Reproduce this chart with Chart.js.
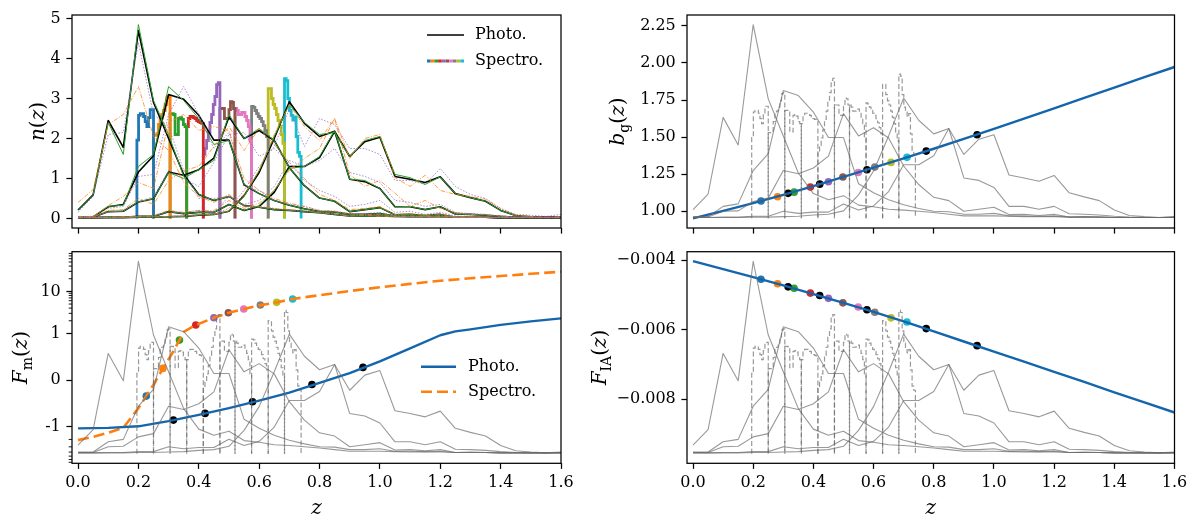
<!DOCTYPE html>
<html><head><meta charset="utf-8">
<script src="https://cdn.jsdelivr.net/npm/chart.js@4.4.1/dist/chart.umd.min.js"></script>
<style>
html,body{margin:0;padding:0;background:#fff;}
#wrap{position:relative;width:1200px;height:531px;overflow:hidden;background:#fff;}
canvas{position:absolute;display:block;}
</style></head><body>
<div id="wrap">
<canvas id="c1" width="575" height="245" style="left:0;top:0;width:575px;height:245px"></canvas>
<canvas id="c2" width="625" height="245" style="left:575px;top:0;width:625px;height:245px"></canvas>
<canvas id="c3" width="575" height="286" style="left:0;top:245px;width:575px;height:286px"></canvas>
<canvas id="c4" width="625" height="286" style="left:575px;top:245px;width:625px;height:286px"></canvas>
</div>
<script>
// ---------------- data ----------------
const zGrid = [0,0.05,0.1,0.15,0.2,0.25,0.3,0.35,0.4,0.45,0.5,0.55,0.6,0.65,0.7,0.75,0.8,0.85,0.9,0.95,1.0,1.05,1.1,1.15,1.2,1.25,1.3,1.35,1.4,1.45,1.5,1.55,1.6];
// photometric n(z), main (black)
const nPhoto1 = [0.21,0.59,2.45,1.78,4.7,2.9,2.0,1.1,0.6,0.45,0.55,0.32,0.28,0.22,0.2,0.17,0.14,0.1,0.06,0.06,0.06,0.05,0.04,0.04,0.04,0.03,0.03,0.03,0.02,0.02,0.02,0.02,0.02];
const nPhoto2 = [0.04,0.04,0.29,0.35,1.16,1.57,3.1,2.98,2.58,1.96,1.96,0.84,0.62,0.45,0.33,0.24,0.17,0.16,0.1,0.1,0.12,0.06,0.06,0.05,0.06,0.03,0.03,0.03,0.02,0.02,0.02,0.02,0.02];
const nPhoto3 = [0.03,0.03,0.17,0.18,0.41,0.49,1.16,1.08,1.22,1.51,2.54,2.0,2.2,1.95,1.27,0.82,0.51,0.43,0.17,0.22,0.27,0.09,0.1,0.07,0.1,0.03,0.04,0.03,0.02,0.02,0.02,0.02,0.02];
const nPhoto4 = [0.02,0.02,0.03,0.03,0.05,0.05,0.17,0.12,0.15,0.15,0.35,0.2,0.3,0.65,1.3,1.3,1.52,2.18,0.98,0.92,0.75,0.29,0.29,0.22,0.29,0.11,0.1,0.08,0.05,0.03,0.02,0.02,0.03];
const nPhoto5 = [0.02,0.02,0.02,0.02,0.03,0.03,0.04,0.05,0.08,0.1,0.18,0.57,1.15,2.0,2.92,2.38,2.05,2.18,1.55,1.92,2.03,1.05,0.98,0.9,1.04,0.62,0.52,0.43,0.2,0.07,0.04,0.02,0.04];
// variants (green solid)
const gPhoto1 = [0.22,0.6,2.4,1.6,4.85,2.95,2.1,1.05,0.6,0.45,0.55,0.32,0.28,0.22,0.2,0.17,0.14,0.1,0.06,0.06,0.06,0.05,0.04,0.04,0.04,0.03,0.03,0.03,0.02,0.02,0.02,0.02,0.02];
const gPhoto2 = [0.04,0.05,0.3,0.33,1.3,1.6,3.3,2.95,2.5,1.85,1.95,0.86,0.62,0.45,0.33,0.24,0.17,0.16,0.1,0.1,0.12,0.06,0.06,0.05,0.06,0.03,0.03,0.03,0.02,0.02,0.02,0.02,0.02];
const gPhoto3 = [0.03,0.03,0.17,0.18,0.42,0.49,1.15,1.0,1.22,1.45,2.6,2.0,2.25,1.95,1.27,0.82,0.51,0.43,0.17,0.22,0.27,0.09,0.1,0.07,0.1,0.03,0.04,0.03,0.02,0.02,0.02,0.02,0.02];
const gPhoto4 = [0.02,0.02,0.03,0.03,0.05,0.05,0.17,0.12,0.15,0.15,0.35,0.2,0.32,0.7,1.25,1.3,1.55,2.2,0.98,0.95,0.75,0.29,0.3,0.22,0.29,0.11,0.1,0.08,0.05,0.03,0.02,0.02,0.03];
const gPhoto5 = [0.02,0.02,0.02,0.02,0.03,0.03,0.04,0.05,0.08,0.1,0.18,0.55,1.2,2.05,2.85,2.4,2.1,2.15,1.55,1.95,2.05,1.1,1.02,0.85,1.04,0.62,0.52,0.43,0.2,0.07,0.04,0.02,0.04];
// variants (orange dash-dot)
const oPhoto1 = [0.4,0.72,2.35,2.6,3.3,2.05,1.7,0.9,0.55,0.4,0.6,0.3,0.3,0.25,0.22,0.2,0.15,0.12,0.06,0.08,0.05,0.04,0.05,0.04,0.03,0.03,0.03,0.02,0.02,0.02,0.02,0.02,0.02];
const oPhoto2 = [0.05,0.05,0.32,0.55,0.9,0.75,2.4,2.6,2.2,2.3,2.2,1.0,0.7,0.5,0.38,0.3,0.2,0.18,0.12,0.1,0.1,0.06,0.06,0.05,0.06,0.04,0.03,0.03,0.02,0.02,0.02,0.02,0.02];
const oPhoto3 = [0.03,0.04,0.2,0.22,0.5,0.35,0.95,1.2,1.3,1.8,2.3,1.7,2.25,1.85,1.4,1.0,0.6,0.45,0.22,0.25,0.3,0.1,0.12,0.08,0.12,0.04,0.04,0.03,0.02,0.02,0.02,0.02,0.02];
const oPhoto4 = [0.02,0.02,0.03,0.04,0.06,0.07,0.2,0.15,0.2,0.2,0.45,0.25,0.38,0.7,1.2,1.5,1.75,2.5,1.1,0.8,0.95,0.63,0.3,0.45,0.25,0.15,0.1,0.1,0.06,0.03,0.03,0.02,0.03];
const oPhoto5 = [0.02,0.02,0.02,0.03,0.04,0.04,0.05,0.06,0.1,0.1,0.2,0.6,1.2,2.1,2.85,2.3,1.95,2.5,1.5,2.0,2.1,1.02,0.8,1.08,0.7,0.6,0.55,0.48,0.25,0.08,0.05,0.03,0.04];
// variants (purple dotted)
const pPhoto1 = [0.15,0.55,2.1,2.15,4.4,2.6,2.3,1.2,0.5,0.5,0.55,0.3,0.28,0.25,0.2,0.18,0.15,0.1,0.07,0.07,0.07,0.05,0.04,0.04,0.04,0.03,0.03,0.03,0.02,0.02,0.02,0.02,0.03];
const pPhoto2 = [0.04,0.05,0.25,0.3,1.05,1.1,2.6,3.3,2.6,1.75,2.15,0.8,0.7,0.45,0.35,0.3,0.2,0.18,0.12,0.12,0.15,0.07,0.06,0.05,0.07,0.04,0.03,0.03,0.02,0.02,0.02,0.02,0.02];
const pPhoto3 = [0.03,0.04,0.15,0.2,0.4,0.55,1.2,1.0,0.8,1.4,2.1,2.15,1.55,1.75,1.4,0.95,0.7,0.55,0.3,0.35,0.45,0.15,0.18,0.1,0.15,0.06,0.05,0.04,0.03,0.03,0.02,0.02,0.03];
const pPhoto4 = [0.02,0.02,0.03,0.03,0.05,0.06,0.15,0.15,0.2,0.15,0.55,0.35,0.45,0.8,1.45,1.3,1.45,1.75,1.15,1.05,0.9,0.45,0.4,0.3,0.35,0.15,0.12,0.1,0.06,0.04,0.03,0.03,0.04];
const pPhoto5 = [0.02,0.02,0.02,0.02,0.04,0.04,0.05,0.06,0.1,0.12,0.25,0.7,1.3,1.8,2.75,1.8,2.5,2.35,1.75,1.75,1.6,0.95,0.95,0.85,1.25,0.8,0.6,0.5,0.25,0.1,0.08,0.05,0.1];
// spectroscopic bins: edges and step values
const specEdges = [0.195,0.25,0.305,0.36,0.415,0.47,0.52,0.575,0.63,0.684,0.739];
const nSpec1 = [1.96,2.58,2.62,2.62,2.55,2.42,2.3,2.52,2.72,2.72];
const nSpec2 = [2.08,2.08,2.12,2.35,2.55,2.6,2.7,2.85,3.02,3.05];
const nSpec3 = [2.62,2.62,2.6,2.1,2.1,2.5,2.52,2.48,2.35,2.3];
const nSpec4 = [2.3,2.5,2.55,2.55,2.52,2.5,2.45,2.42,2.4,2.38];
const nSpec5 = [1.6,1.75,1.95,2.15,2.4,2.6,2.85,3.05,3.35,3.4];
const nSpec6 = [2.75,2.75,2.75,2.5,2.5,2.5,2.72,2.92,2.9,2.75];
const nSpec7 = [2.75,2.7,2.6,2.6,2.65,2.65,2.55,2.45,2.3,1.95];
const nSpec8 = [2.8,2.78,2.7,2.62,2.55,2.5,2.42,2.32,2.2,2.05];
const nSpec9 = [3.25,3.25,3.0,2.85,2.75,2.6,2.45,2.3,2.1,1.88];
const nSpec10 = [3.5,3.45,3.0,2.7,2.58,2.46,2.54,2.05,1.65,1.55];
const specColors = ['#1f77b4','#ff7f0e','#2ca02c','#d62728','#9467bd','#8c564b','#e377c2','#7f7f7f','#bcbd22','#17becf'];
// bin mean redshifts
const zPhotoMean = [0.316,0.421,0.578,0.775,0.944];
const zSpecMean = [0.226,0.281,0.336,0.39,0.45,0.498,0.549,0.604,0.658,0.711];
// b_g(z)
const zLine = [0,0.1,0.2,0.3,0.4,0.5,0.6,0.7,0.8,0.9,1.0,1.1,1.2,1.3,1.4,1.5,1.6];
const bgLine = [0.951,1.002,1.054,1.11,1.169,1.231,1.294,1.356,1.421,1.487,1.555,1.624,1.694,1.764,1.834,1.904,1.973];
const bgPhotoDots = [1.12,1.182,1.279,1.405,1.516];
const bgSpecDots = [1.068,1.097,1.128,1.162,1.198,1.23,1.261,1.297,1.329,1.363];
// F_IA(z)
const fiaLine = [-0.00403,-0.00426,-0.00449,-0.00473,-0.00498,-0.00523,-0.00549,-0.00576,-0.00605,-0.00634,-0.00663,-0.00692,-0.00721,-0.0075,-0.0078,-0.00809,-0.00838];
const fiaPhotoDots = [-0.00477,-0.00502,-0.00543,-0.00597,-0.00646];
const fiaSpecDots = [-0.00455,-0.00468,-0.00481,-0.00495,-0.0051,-0.00523,-0.00535,-0.0055,-0.00566,-0.00578];
// F_m(z)
const zFmPhoto = [0,0.1,0.2,0.3,0.4,0.5,0.6,0.7,0.8,0.9,1.0,1.1,1.2,1.25,1.3,1.4,1.5,1.6];
const fmPhoto = [-1.09,-1.06,-0.99,-0.88,-0.745,-0.6,-0.44,-0.27,-0.06,0.15,0.4,0.68,0.96,1.12,1.25,1.6,1.93,2.28];
const zFmSpec = [0,0.05,0.1,0.15,0.2,0.226,0.25,0.281,0.31,0.336,0.35,0.39,0.45,0.5,0.55,0.6,0.66,0.71,0.8,0.9,1.0,1.1,1.2,1.3,1.4,1.5,1.6];
const fmSpec = [-2.08,-1.73,-1.39,-1.06,-0.6,-0.343,-0.1,0.25,0.55,0.857,1.09,1.58,2.36,3.1,3.8,4.65,5.5,6.6,8.1,10.2,12.5,15.1,17.9,20.5,23.2,26.2,29.4];
const fmPhotoDots = [-0.857,-0.714,-0.465,-0.093,0.272];
const fmSpecDots = [-0.343,0.25,0.857,1.58,2.36,3.1,3.8,4.73,5.48,6.6];
// ticks
const zTicks = [0,0.2,0.4,0.6,0.8,1.0,1.2,1.4,1.6];
const nTicks = [0,1,2,3,4,5];
const bgTicks = [1.0,1.25,1.5,1.75,2.0,2.25];
const fmTicks = [-1,0,1,10];
const fmMinorTicks = [-7,-6,-5,-4,-3,-2,2,3,4,5,6,7,8,9,20,30,40,50,60,70,80];
const fiaTicks = [-0.008,-0.006,-0.004];

const nPhoto = [nPhoto1,nPhoto2,nPhoto3,nPhoto4,nPhoto5];
const gPhoto = [gPhoto1,gPhoto2,gPhoto3,gPhoto4,gPhoto5];
const oPhoto = [oPhoto1,oPhoto2,oPhoto3,oPhoto4,oPhoto5];
const pPhoto = [pPhoto1,pPhoto2,pPhoto3,pPhoto4,pPhoto5];
const nSpec = [nSpec1,nSpec2,nSpec3,nSpec4,nSpec5,nSpec6,nSpec7,nSpec8,nSpec9,nSpec10];

// ---------------- symlog scale ----------------
const LSADJ = 1/(1-1/10);
function symT(v){ const a=Math.abs(v); return a<=1 ? v*LSADJ : Math.sign(v)*(LSADJ+Math.log10(a)); }
function symInv(t){ const a=Math.abs(t); return a<=LSADJ ? t/LSADJ : Math.sign(t)*Math.pow(10,a-LSADJ); }
class SymLogScale extends Chart.Scale {
  determineDataLimits(){ const b=this.getUserBounds(); this.min=b.min; this.max=b.max; }
  buildTicks(){ return []; }
  getLabelForValue(v){ return String(v); }
  configure(){ super.configure(); this._s=symT(this.min); this._r=symT(this.max)-this._s; }
  getPixelForValue(v){ if(v===null||v===undefined||isNaN(v)) return NaN; return this.getPixelForDecimal((symT(v)-this._s)/this._r); }
  getValueForPixel(p){ return symInv(this._s + this.getDecimalForPixel(p)*this._r); }
}
SymLogScale.id='symlog';
SymLogScale.defaults={};
Chart.register(SymLogScale);

// ---------------- helpers ----------------
const FONT = 'DejaVu Serif';
Chart.defaults.font.family = '"DejaVu Serif", serif';
Chart.defaults.color = '#000';
const LINEBLUE = '#1565ad';
const GREY = 'rgba(105,105,105,0.68)';

function xy(xs, ys){ return xs.map((x,i)=>({x:x, y:ys[i]})); }
function stepPts(e0, e1, vals){
  const w=(e1-e0)/vals.length; const pts=[{x:e0,y:0}];
  vals.forEach((v,k)=>pts.push({x:e0+k*w,y:v})); pts.push({x:e1,y:0}); return pts;
}
function lineDS(xs, ys, o){ return Object.assign({data:xy(xs,ys), pointRadius:0, fill:false, borderCapStyle:'butt', borderJoinStyle:'round'}, o); }
function dotDS(xs, ys, colors, axis){ return {data:xy(xs,ys), showLine:false, pointRadius:3.8, pointHoverRadius:3.8, pointBorderWidth:0, pointBackgroundColor:colors, borderColor:'rgba(0,0,0,0)', yAxisID:axis||'y'}; }
function zeroPad(s){ s.paddingTop=0; s.paddingBottom=0; s.paddingLeft=0; s.paddingRight=0; }
const gridCfg = {display:true, drawOnChartArea:false, drawTicks:true, tickLength:5.6, tickWidth:1.25, tickColor:'#000'};
function xAxis(show, H, area){
  return { type:'linear', position:'bottom', min:-0.02, max:1.6,
    afterBuildTicks: s=>{ s.ticks = zTicks.map(v=>({value:v})); },
    afterFit: s=>{ s.height = H - area.bottom; zeroPad(s); },
    grid: gridCfg, border:{display:false},
    ticks:{display:show, autoSkip:false, maxRotation:0, minRotation:0, padding:4.5, color:'#000', font:{family:FONT,size:16}, callback:v=>Number(v).toFixed(1)} };
}
function yAxis(type, min, max, vals, fmt, area){
  return { type:type, position:'left', min:min, max:max,
    afterBuildTicks: s=>{ s.ticks = vals.map(v=>({value:v})); },
    afterFit: s=>{ s.width = area.left; zeroPad(s); },
    grid: gridCfg, border:{display:false},
    ticks:{autoSkip:false, padding:5.6, color:'#000', font:{family:FONT,size:16}, callback:fmt} };
}
function nAxis(){ return { type:'linear', display:false, min:-0.235, max:4.935 }; }

function fontFor(p, size){ const s = p.sub ? Math.round(size*0.7) : size; return (p.it?'italic ':'') + s + 'px "DejaVu Serif"'; }
function drawMath(ctx, parts, cx, cy, rot, size){
  ctx.save(); ctx.translate(cx, cy); if(rot) ctx.rotate(-Math.PI/2);
  ctx.fillStyle='#000'; ctx.textBaseline='alphabetic'; ctx.textAlign='left';
  const ws = parts.map(p=>{ ctx.font=fontFor(p,size); return ctx.measureText(p.t).width; });
  let x = -ws.reduce((a,b)=>a+b,0)/2;
  parts.forEach((p,i)=>{ ctx.font=fontFor(p,size); ctx.fillText(p.t, x, size*0.32 + (p.sub? size*0.22:0)); x+=ws[i]; });
  ctx.restore();
}
function legendText(ctx, t, x, y){ ctx.save(); ctx.fillStyle='#000'; ctx.font='16px "DejaVu Serif"'; ctx.textBaseline='middle'; ctx.textAlign='left'; ctx.fillText(t,x,y); ctx.restore(); }

function deco(opts){
  return {
    id:'deco',
    afterDatasetsDraw(chart){
      const ctx=chart.ctx, a=chart.chartArea;
      ctx.save(); ctx.strokeStyle='#000'; ctx.lineWidth=1.25;
      ctx.strokeRect(a.left, a.top, a.right-a.left, a.bottom-a.top);
      if(opts.minor){
        const s=chart.scales.y; ctx.lineWidth=0.9; ctx.beginPath();
        opts.minor.forEach(v=>{ const p=s.getPixelForValue(v); if(p>=a.top-0.5 && p<=a.bottom+0.5){ ctx.moveTo(a.left-3.3,p); ctx.lineTo(a.left,p);} });
        ctx.stroke();
      }
      ctx.restore();
    },
    afterDraw(chart){
      const ctx=chart.ctx, a=chart.chartArea;
      drawMath(ctx, opts.ylabel, opts.ylabelX, (a.top+a.bottom)/2, true, 20);
      if(opts.xlabel) drawMath(ctx, [{t:'z',it:true}], (a.left+a.right)/2, opts.xlabelY, false, 20);
      if(opts.legend) opts.legend(ctx, a);
    }
  };
}

function makeChart(id, W, H, area, scales, datasets, plug){
  return new Chart(document.getElementById(id), {
    type:'line',
    data:{datasets:datasets},
    options:{
      responsive:false, animation:false, events:[],
      layout:{padding:{left:0, top:area.top, right:W-area.right, bottom:0}},
      plugins:{legend:{display:false}, tooltip:{enabled:false}},
      elements:{point:{radius:0}, line:{tension:0}},
      scales:scales
    },
    plugins:[plug]
  });
}

function greyDatasets(){
  const ds=[];
  nPhoto.forEach(arr=>ds.push(lineDS(zGrid, arr, {borderColor:GREY, borderWidth:1.1, yAxisID:'yn'})));
  nSpec.forEach((vals,i)=>ds.push({data:stepPts(specEdges[i],specEdges[i+1],vals), stepped:true, pointRadius:0, fill:false, borderColor:GREY, borderWidth:1.2, borderDash:[5,2.6], yAxisID:'yn'}));
  return ds;
}

// ---------------- panel 1: n(z) ----------------
(function(){
  const W=575,H=245, area={left:72,right:561,top:15,bottom:228};
  const ds=[];
  pPhoto.forEach(arr=>ds.push(lineDS(zGrid, arr, {borderColor:'rgba(148,103,189,0.85)', borderWidth:0.9, borderDash:[1.5,1.6]})));
  oPhoto.forEach(arr=>ds.push(lineDS(zGrid, arr, {borderColor:'rgba(255,127,14,0.85)', borderWidth:0.9, borderDash:[4.5,1.5,1,1.5]})));
  gPhoto.forEach(arr=>ds.push(lineDS(zGrid, arr, {borderColor:'#2ca02c', borderWidth:1.0})));
  nPhoto.forEach(arr=>ds.push(lineDS(zGrid, arr, {borderColor:'#000', borderWidth:1.6})));
  nSpec.forEach((vals,i)=>ds.push({data:stepPts(specEdges[i],specEdges[i+1],vals), stepped:true, pointRadius:0, fill:false, borderColor:specColors[i], borderWidth:2.8}));
  makeChart('c1', W, H, area, {
    x: xAxis(false, H, area),
    y: yAxis('linear', -0.24, 5.09, nTicks, v=>String(v), area)
  }, ds, deco({
    ylabel:[{t:'n',it:true},{t:'('},{t:'z',it:true},{t:')'}], ylabelX:38,
    legend:(ctx,a)=>{
      ctx.save(); ctx.lineCap='butt';
      ctx.strokeStyle='#000'; ctx.lineWidth=1.6; ctx.beginPath(); ctx.moveTo(427,35); ctx.lineTo(464,35); ctx.stroke();
      const w=(464-427)/specColors.length; ctx.lineWidth=3;
      specColors.forEach((c,i)=>{ ctx.strokeStyle=c; ctx.beginPath(); ctx.moveTo(427+i*w,61); ctx.lineTo(427+(i+1)*w,61); ctx.stroke(); });
      ctx.restore();
      legendText(ctx,'Photo.',475,35); legendText(ctx,'Spectro.',475,61);
    }
  }));
})();

// ---------------- panel 2: b_g(z) ----------------
(function(){
  const W=625,H=245, area={left:112,right:599.5,top:15,bottom:228};
  const ds=greyDatasets();
  ds.push(lineDS(zLine, bgLine, {borderColor:LINEBLUE, borderWidth:2.4}));
  ds.push(dotDS(zPhotoMean, bgPhotoDots, '#000'));
  ds.push(dotDS(zSpecMean, bgSpecDots, specColors));
  makeChart('c2', W, H, area, {
    x: xAxis(false, H, area),
    y: yAxis('linear', 0.886, 2.324, bgTicks, v=>Number(v).toFixed(2), area),
    yn: nAxis()
  }, ds, deco({ ylabel:[{t:'b',it:true},{t:'g',sub:true},{t:'('},{t:'z',it:true},{t:')'}], ylabelX:43 }));
})();

// ---------------- panel 3: F_m(z) ----------------
(function(){
  const W=575,H=286, area={left:72,right:561,top:6.7,bottom:218.3};
  const ds=greyDatasets();
  ds.push(lineDS(zFmPhoto, fmPhoto, {borderColor:LINEBLUE, borderWidth:2.4}));
  ds.push(lineDS(zFmSpec, fmSpec, {borderColor:'#ff7f0e', borderWidth:2.6, borderDash:[11,5]}));
  ds.push(dotDS(zPhotoMean, fmPhotoDots, '#000'));
  ds.push(dotDS(zSpecMean, fmSpecDots, specColors));
  makeChart('c3', W, H, area, {
    x: xAxis(true, H, area),
    y: yAxis('symlog', -7.4, 88, fmTicks, v=>String(v), area),
    yn: nAxis()
  }, ds, deco({
    ylabel:[{t:'F',it:true},{t:'m',sub:true},{t:'('},{t:'z',it:true},{t:')'}], ylabelX:21, xlabel:true, xlabelY:263, minor:fmMinorTicks,
    legend:(ctx,a)=>{
      ctx.save(); ctx.lineCap='butt';
      ctx.strokeStyle=LINEBLUE; ctx.lineWidth=2.4; ctx.beginPath(); ctx.moveTo(421,121.7); ctx.lineTo(456,121.7); ctx.stroke();
      ctx.strokeStyle='#ff7f0e'; ctx.lineWidth=2.6; ctx.setLineDash([11,5]); ctx.beginPath(); ctx.moveTo(421,146.7); ctx.lineTo(456,146.7); ctx.stroke();
      ctx.restore();
      legendText(ctx,'Photo.',468,121.7); legendText(ctx,'Spectro.',468,146.7);
    }
  }));
})();

// ---------------- panel 4: F_IA(z) ----------------
(function(){
  const W=625,H=286, area={left:112,right:599.5,top:6.7,bottom:218.3};
  const ds=greyDatasets();
  ds.push(lineDS(zLine, fiaLine, {borderColor:LINEBLUE, borderWidth:2.4}));
  ds.push(dotDS(zPhotoMean, fiaPhotoDots, '#000'));
  ds.push(dotDS(zSpecMean, fiaSpecDots, specColors));
  makeChart('c4', W, H, area, {
    x: xAxis(true, H, area),
    y: yAxis('linear', -0.00984, -0.00376, fiaTicks, v=>'\u2212'+Math.abs(v).toFixed(3), area),
    yn: nAxis()
  }, ds, deco({ ylabel:[{t:'F',it:true},{t:'IA',sub:true},{t:'('},{t:'z',it:true},{t:')'}], ylabelX:25, xlabel:true, xlabelY:263 }));
})();
</script>
</body></html>
